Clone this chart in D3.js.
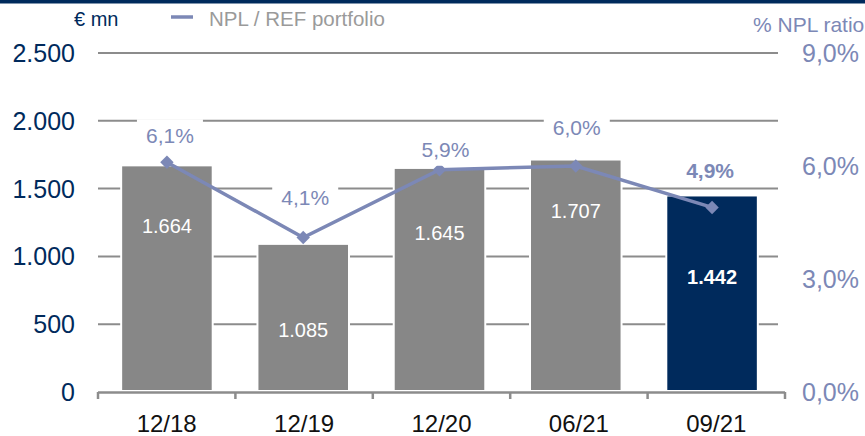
<!DOCTYPE html>
<html>
<head>
<meta charset="utf-8">
<script src="https://cdn.jsdelivr.net/npm/d3@7"></script>
<style>
  html, body { margin: 0; padding: 0; background: #fff; }
  svg { display: block; font-family: Arial, "Liberation Sans", sans-serif; }
</style>
</head>
<body>
<svg id="chart" width="865" height="436"></svg>
<script>
// ---- data ----
const categories = ["12/18", "12/19", "12/20", "06/21", "09/21"];
const nplVolume = [1664, 1085, 1645, 1707, 1442];           // € mn
const volumeLabels = ["1.664", "1.085", "1.645", "1.707", "1.442"];
const nplRatio = [6.1, 4.1, 5.9, 6.0, 4.9];                  // %
const ratioLabels = ["6,1%", "4,1%", "5,9%", "6,0%", "4,9%"];
const leftTicks = [0, 500, 1000, 1500, 2000, 2500];
const leftTickLabels = ["0", "500", "1.000", "1.500", "2.000", "2.500"];
const rightTicks = [0, 3, 6, 9];
const rightTickLabels = ["0,0%", "3,0%", "6,0%", "9,0%"];

// ---- layout ----
const NAVY = "#002a5c", GREY = "#878787", LINE = "#7c88b6", GRID = "#8c8c8c";
const svg = d3.select("#chart");
const x0 = 98, x1 = 785, yTop = 53, yBot = 392;
// per-label nudges (layout, pixels)
const ratioLabelDx = [3, 2, 6, 1, -2];
const ratioLabelDy = [-27, -40, -20, -39, -37];
const volLabelDy = [59, 85, 64, 50, 80];

const x = d3.scaleBand().domain(categories).range([99, 780]).paddingInner(0.343).paddingOuter(0.17);
const xTicks = d3.scaleBand().domain(categories).range([x0, x1]);
const yL = d3.scaleLinear().domain([0, 2500]).range([yBot, yTop]);
const yR = d3.scaleLinear().domain([0, 9]).range([yBot, yTop]);

// top band
svg.append("rect").attr("x", 0).attr("y", 0).attr("width", 865).attr("height", 3.5).attr("fill", NAVY);

// gridlines
svg.append("g").selectAll("line").data(leftTicks.filter(d => d > 0)).join("line")
  .attr("x1", x0).attr("x2", 778)
  .attr("y1", d => yL(d)).attr("y2", d => yL(d))
  .attr("stroke", GRID).attr("stroke-width", 2);

// left axis labels
svg.append("g").selectAll("text").data(leftTicks).join("text")
  .attr("x", 75).attr("y", d => yL(d)).attr("dy", "0.36em")
  .attr("text-anchor", "end").attr("font-size", 25).attr("fill", NAVY)
  .text((d, i) => leftTickLabels[i]);

// right axis labels
svg.append("g").selectAll("text").data(rightTicks).join("text")
  .attr("x", 802).attr("y", d => yR(d)).attr("dy", "0.36em")
  .attr("text-anchor", "start").attr("font-size", 25).attr("fill", LINE)
  .text((d, i) => rightTickLabels[i]);

// bars (white outline to break gridlines)
svg.append("g").selectAll("rect").data(nplVolume).join("rect")
  .attr("x", (d, i) => x(categories[i]))
  .attr("width", x.bandwidth())
  .attr("y", d => yL(d))
  .attr("height", d => yBot - 2 - yL(d))
  .attr("fill", "#fff")
  .attr("stroke", "#fff").attr("stroke-width", 4);

svg.append("g").selectAll("rect").data(nplVolume).join("rect")
  .attr("x", (d, i) => x(categories[i]))
  .attr("width", x.bandwidth())
  .attr("y", d => yL(d))
  .attr("height", d => yBot - 2 - yL(d))
  .attr("fill", (d, i) => i === categories.length - 1 ? NAVY : GREY);

// x axis
svg.append("line").attr("x1", x0).attr("x2", x1).attr("y1", yBot + 0.5).attr("y2", yBot + 0.5)
  .attr("stroke", GRID).attr("stroke-width", 2.5);
const tickXs = categories.map(c => xTicks(c)).concat([x1]);
svg.append("g").selectAll("line").data(tickXs).join("line")
  .attr("x1", d => d).attr("x2", d => d)
  .attr("y1", yBot).attr("y2", yBot + 7)
  .attr("stroke", GRID).attr("stroke-width", 2.5);
svg.append("g").selectAll("text").data(categories).join("text")
  .attr("x", d => xTicks(d) + xTicks.bandwidth() / 2).attr("y", 423).attr("dy", "0.36em")
  .attr("text-anchor", "middle").attr("font-size", 24).attr("fill", "#111")
  .text(d => d);

// volume labels
svg.append("g").selectAll("text").data(nplVolume).join("text")
  .attr("x", (d, i) => x(categories[i]) + x.bandwidth() / 2)
  .attr("y", (d, i) => yL(d) + volLabelDy[i]).attr("dy", "0.36em")
  .attr("text-anchor", "middle").attr("font-size", 20).attr("fill", "#fff")
  .attr("font-weight", (d, i) => i === categories.length - 1 ? "bold" : "normal")
  .text((d, i) => volumeLabels[i]);

// ratio line
const cx = i => x(categories[i]) + x.bandwidth() / 2;
const line = d3.line().x((d, i) => cx(i)).y(d => yR(d));
svg.append("path").datum(nplRatio).attr("d", line)
  .attr("fill", "none").attr("stroke", LINE).attr("stroke-width", 3.5);
svg.append("g").selectAll("path").data(nplRatio).join("path")
  .attr("d", d3.symbol(d3.symbolSquare, 90)())
  .attr("transform", (d, i) => `translate(${cx(i)},${yR(d)}) rotate(45)`)
  .attr("fill", LINE);

// ratio labels with white background
const rl = svg.append("g").selectAll("g").data(nplRatio).join("g")
  .attr("transform", (d, i) => `translate(${cx(i) + ratioLabelDx[i]},${yR(d) + ratioLabelDy[i]})`);
rl.append("rect").attr("x", -33).attr("y", -16).attr("width", 66).attr("height", 32).attr("fill", "#fff");
rl.append("text").attr("dy", "0.36em").attr("text-anchor", "middle")
  .attr("font-size", 21).attr("fill", LINE)
  .attr("font-weight", (d, i) => i === categories.length - 1 ? "bold" : "normal")
  .text((d, i) => ratioLabels[i]);

// legend / unit labels
svg.append("text").attr("x", 74).attr("y", 19).attr("dy", "0.36em")
  .attr("font-size", 20).attr("fill", NAVY).text("€ mn");
svg.append("line").attr("x1", 171).attr("x2", 193).attr("y1", 17).attr("y2", 17)
  .attr("stroke", LINE).attr("stroke-width", 3.5);
svg.append("text").attr("x", 209).attr("y", 19).attr("dy", "0.36em")
  .attr("font-size", 20.5).attr("fill", "#9a9a9a").text("NPL / REF portfolio");
svg.append("text").attr("x", 753).attr("y", 24).attr("dy", "0.36em")
  .attr("font-size", 21).attr("fill", LINE).text("% NPL ratio");
</script>
</body>
</html>
